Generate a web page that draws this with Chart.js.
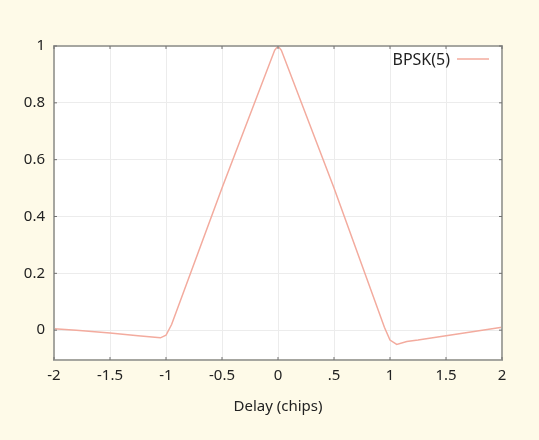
<!DOCTYPE html>
<html>
<head>
<meta charset="utf-8">
<script src="https://cdn.jsdelivr.net/npm/chart.js@4/dist/chart.umd.min.js"></script>
<style>
  html, body { margin: 0; padding: 0; background: #fefae8; }
  #wrap { width: 539px; height: 440px; }
</style>
</head>
<body>
<div id="wrap"><canvas id="myChart"></canvas></div>
<script>
/* Autocorrelation BPSK(5) */
const delays = [-2, -1.8, -1.5, -1.25, -1.1, -1.05, -1.0, -0.95, -0.5, -0.03, 0, 0.03, 0.5, 0.95, 1.0, 1.06, 1.15, 1.25, 1.5, 1.75, 2];
const correlation = [0.005, 0.0, -0.01, -0.02, -0.025, -0.027, -0.018, 0.02, 0.5, 0.985, 1.0, 0.985, 0.5, 0.01, -0.035, -0.05, -0.04, -0.035, -0.02, -0.005, 0.01];
const xTicks = [-2, -1.5, -1, -0.5, 0, 0.5, 1, 1.5, 2];
const yTicks = [0, 0.2, 0.4, 0.6, 0.8, 1];
const serieNome = 'BPSK(5)';

const fonte = "'Noto Sans', sans-serif";
const corLinha = '#f3ab9e';

/* moldura + marcas de escala estilo gnuplot + legenda */
const molduraPlugin = {
  id: 'moldura',
  afterDatasetsDraw(chart) {
    const ctx = chart.ctx;
    const a = chart.chartArea;
    const sx = chart.scales.x, sy = chart.scales.y;
    ctx.save();
    ctx.strokeStyle = '#a6a6a0';
    ctx.lineWidth = 2;
    ctx.strokeRect(a.left, a.top, a.right - a.left, a.bottom - a.top);
    ctx.strokeStyle = '#707070';
    ctx.lineWidth = 1;
    xTicks.forEach(v => {
      const px = sx.getPixelForValue(v);
      ctx.beginPath();
      ctx.moveTo(px, a.bottom); ctx.lineTo(px, a.bottom - 3);
      ctx.moveTo(px, a.top); ctx.lineTo(px, a.top + 3);
      ctx.stroke();
    });
    yTicks.forEach(v => {
      const py = sy.getPixelForValue(v);
      ctx.beginPath();
      ctx.moveTo(a.left, py); ctx.lineTo(a.left + 3, py);
      ctx.moveTo(a.right, py); ctx.lineTo(a.right - 3, py);
      ctx.stroke();
    });
    // legenda
    ctx.font = '16px ' + fonte;
    ctx.fillStyle = '#222';
    ctx.textAlign = 'right';
    ctx.textBaseline = 'middle';
    ctx.fillText(serieNome, a.right - 52, a.top + 14);
    ctx.strokeStyle = corLinha;
    ctx.lineWidth = 1.5;
    ctx.beginPath();
    ctx.moveTo(a.right - 45, a.top + 13);
    ctx.lineTo(a.right - 13, a.top + 13);
    ctx.stroke();
    ctx.restore();
  }
};

const fundoPlugin = {
  id: 'fundo',
  beforeDraw(chart) {
    const ctx = chart.ctx;
    const a = chart.chartArea;
    ctx.save();
    ctx.fillStyle = '#fefae8';
    ctx.fillRect(0, 0, chart.width, chart.height);
    ctx.fillStyle = '#ffffff';
    ctx.fillRect(a.left, a.top, a.right - a.left, a.bottom - a.top);
    ctx.restore();
  }
};

const dataLinha = {
  datasets: [{
    label: serieNome,
    data: delays.map((d, i) => ({ x: d, y: correlation[i] })),
    borderColor: corLinha,
    borderWidth: 1.5,
    pointRadius: 0,
    tension: 0,
    fill: false
  }]
};

const config = {
  type: 'line',
  data: dataLinha,
  options: {
    responsive: true,
    maintainAspectRatio: false,
    animation: false,
    layout: { padding: { left: 0, right: 37, top: 46, bottom: 0 } },
    plugins: {
      legend: { display: false },
      tooltip: { enabled: false }
    },
    scales: {
      x: {
        type: 'linear',
        min: -2,
        max: 2,
        afterBuildTicks: s => { s.ticks = xTicks.map(v => ({ value: v })); },
        afterFit: s => { s.height = 80; },
        border: { display: false },
        grid: { color: '#ececec', drawTicks: false },
        ticks: {
          padding: 7,
          color: '#222',
          font: { family: fonte, size: 15 },
          callback: v => (v === 0.5 ? '.5' : String(v))
        },
        title: {
          display: true,
          text: 'Delay (chips)',
          color: '#222',
          font: { family: fonte, size: 15 },
          padding: { top: 4, bottom: 24 }
        }
      },
      y: {
        min: -0.105,
        max: 1,
        afterBuildTicks: s => { s.ticks = yTicks.map(v => ({ value: v })); },
        afterFit: s => { s.width = 54; },
        border: { display: false },
        grid: { color: '#ececec', drawTicks: false },
        ticks: {
          padding: 9,
          color: '#222',
          font: { family: fonte, size: 15 },
          callback: v => String(v)
        }
      }
    }
  },
  plugins: [fundoPlugin, molduraPlugin]
};

const myChart = new Chart(document.getElementById('myChart'), config);
</script>
</body>
</html>
